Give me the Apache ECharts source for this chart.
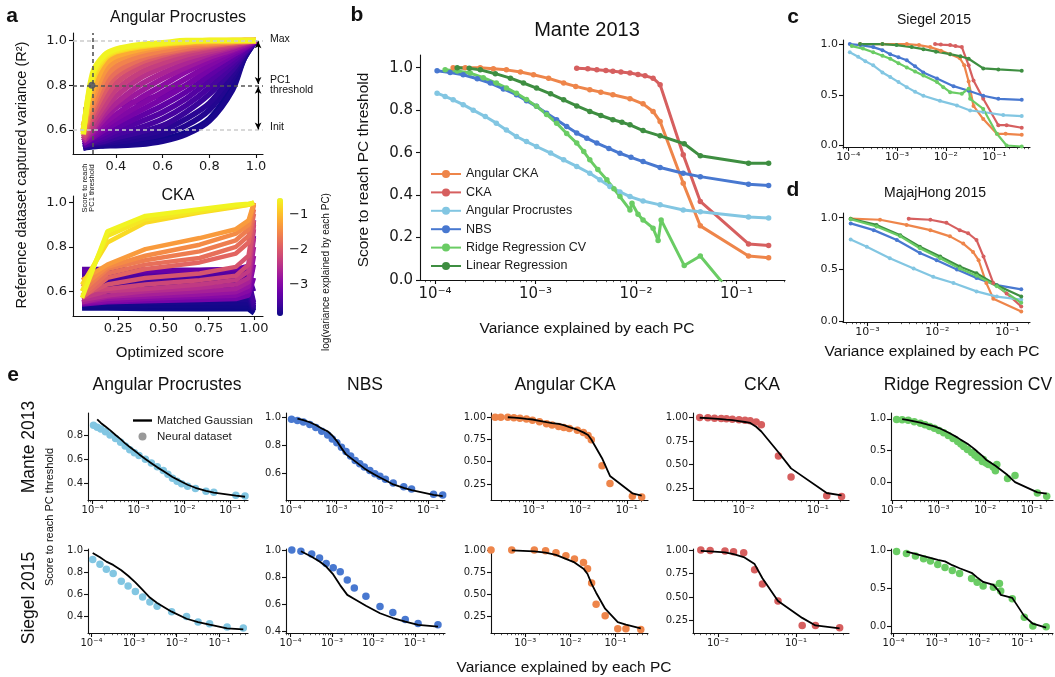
<!DOCTYPE html>
<html>
<head>
<meta charset="utf-8">
<script src="https://cdn.jsdelivr.net/npm/echarts@6/dist/echarts.min.js"></script>
<style>html,body{margin:0;padding:0;background:#fff}#chart{width:1055px;height:677px}</style>
</head>
<body>
<div id="chart"></div>
<script>
// ---------- panel a : Angular Procrustes sweep ----------
var apScore = [0.26, 0.3, 0.35, 0.4, 0.5, 0.6, 0.7, 0.8, 0.9, 0.95, 1.0];
var apLogVar = [-3.85,-3.8,-3.75,-3.7,-3.6,-3.5,-3.4,-3.3,-3.2,-3.1,-3.0,-2.9,-2.75,-2.6,-2.45,-2.3,-2.15,-1.95,-1.75,-1.55,-1.35,-1.15,-0.8,-0.65,-0.55];
var apR2 = [
  [0.52,0.525,0.53,0.535,0.545,0.56,0.59,0.65,0.8,0.92,1.0],
  [0.53,0.53,0.53,0.53,0.535,0.55,0.58,0.64,0.78,0.92,1.0],
  [0.52,0.53,0.54,0.545,0.56,0.58,0.62,0.69,0.83,0.93,1.0],
  [0.52,0.535,0.545,0.555,0.575,0.6,0.65,0.72,0.85,0.935,1.0],
  [0.53,0.54,0.55,0.565,0.59,0.62,0.68,0.76,0.87,0.94,1.0],
  [0.53,0.545,0.56,0.58,0.61,0.65,0.71,0.79,0.89,0.945,1.0],
  [0.53,0.55,0.57,0.595,0.635,0.68,0.74,0.82,0.905,0.95,1.0],
  [0.54,0.56,0.585,0.61,0.66,0.71,0.77,0.845,0.92,0.96,1.0],
  [0.69,0.69,0.7,0.71,0.73,0.76,0.8,0.87,0.935,0.965,1.0],
  [0.54,0.565,0.6,0.63,0.685,0.74,0.8,0.87,0.935,0.965,1.0],
  [0.54,0.57,0.615,0.65,0.71,0.77,0.83,0.89,0.945,0.97,1.0],
  [0.55,0.58,0.63,0.67,0.74,0.8,0.86,0.91,0.955,0.975,1.0],
  [0.55,0.59,0.65,0.7,0.77,0.83,0.88,0.925,0.96,0.98,1.0],
  [0.55,0.6,0.67,0.72,0.8,0.855,0.9,0.94,0.97,0.985,1.0],
  [0.56,0.61,0.69,0.75,0.83,0.88,0.92,0.95,0.975,0.99,1.0],
  [0.56,0.63,0.71,0.78,0.855,0.9,0.935,0.96,0.98,0.99,1.0],
  [0.57,0.65,0.74,0.81,0.88,0.92,0.95,0.97,0.985,0.995,1.0],
  [0.58,0.67,0.77,0.84,0.9,0.935,0.96,0.975,0.99,0.995,1.0],
  [0.59,0.69,0.8,0.86,0.915,0.945,0.965,0.98,0.99,0.995,1.0],
  [0.6,0.71,0.83,0.885,0.93,0.955,0.975,0.985,0.995,1.0,1.0],
  [0.62,0.74,0.86,0.91,0.95,0.97,0.985,0.99,0.995,1.0,1.0],
  [0.6,0.77,0.89,0.93,0.96,0.978,0.99,0.995,1.0,1.0,1.0],
  [0.6,0.82,0.915,0.95,0.972,0.985,0.993,1.0,1.0,1.0,1.0],
  [0.59,0.84,0.925,0.955,0.977,0.988,0.995,1.0,1.0,1.0,1.0],
  [0.58,0.855,0.935,0.962,0.982,0.99,1.0,1.0,1.0,1.0,1.0]
];
var apInit = 0.6, apThreshold = 0.8, apMax = 1.0, apScoreAtThreshold = 0.297;

// ---------- panel a : CKA sweep ----------
var ckaScore = [0.05, 0.19, 0.4, 0.7, 0.9, 0.97, 1.0];
var ckaLogVar = [-3.88,-3.85,-3.82,-3.78,-3.74,-3.7,-3.65,-3.6,-3.55,-3.5,-3.45,-3.4,-3.35,-3.25,-3.1,-2.95,-2.8,-2.65,-2.5,-2.35,-2.2,-2.05,-1.85,-1.75,-1.6,-1.45,-1.3,-0.75,-0.65,-0.55];
var ckaR2 = [
  [0.522,0.522,0.52,0.518,0.518,0.518,0.5],
  [0.535,0.535,0.534,0.532,0.531,0.531,0.505],
  [0.55,0.55,0.548,0.546,0.545,0.545,0.51],
  [0.565,0.565,0.563,0.561,0.56,0.56,0.512],
  [0.58,0.58,0.578,0.576,0.575,0.575,0.515],
  [0.595,0.595,0.593,0.591,0.59,0.59,0.52],
  [0.61,0.61,0.608,0.606,0.605,0.607,0.525],
  [0.625,0.625,0.623,0.621,0.62,0.622,0.53],
  [0.64,0.64,0.638,0.636,0.636,0.64,0.54],
  [0.655,0.655,0.653,0.652,0.652,0.656,0.55],
  [0.67,0.67,0.668,0.667,0.668,0.672,0.6],
  [0.685,0.685,0.683,0.682,0.684,0.69,0.7],
  [0.7,0.7,0.698,0.697,0.7,0.71,0.85],
  [0.69,0.69,0.69,0.695,0.7,0.715,0.92],
  [0.54,0.55,0.555,0.56,0.565,0.58,0.66],
  [0.545,0.555,0.565,0.575,0.58,0.6,0.72],
  [0.55,0.565,0.575,0.585,0.595,0.62,0.76],
  [0.55,0.575,0.585,0.6,0.61,0.64,0.8],
  [0.56,0.58,0.6,0.615,0.63,0.66,0.84],
  [0.57,0.6,0.61,0.63,0.65,0.69,0.88],
  [0.6,0.61,0.63,0.65,0.67,0.72,0.9],
  [0.58,0.63,0.66,0.68,0.71,0.76,0.92],
  [0.57,0.66,0.7,0.73,0.77,0.82,0.95],
  [0.58,0.68,0.72,0.75,0.8,0.85,0.97],
  [0.6,0.7,0.74,0.78,0.83,0.88,0.99],
  [0.62,0.71,0.76,0.81,0.86,0.9,1.0],
  [0.65,0.72,0.79,0.84,0.88,0.92,1.0],
  [0.63,0.82,0.91,0.955,0.98,0.99,1.0],
  [0.6,0.85,0.925,0.96,0.985,0.99,1.0],
  [0.57,0.87,0.94,0.97,0.99,0.995,1.0]
];
var cbMin = -3.89, cbMax = -0.51;
var cbTicks = [-3, -2, -1];

// ---------- Mante 2013 (log10 variance, score) ----------
var manteAngCkaX = [-3.82,-3.7,-3.55,-3.42,-3.29,-3.15,-3.02,-2.87,-2.72,-2.6,-2.46,-2.35,-2.23,-2.06,-1.93,-1.83,-1.76,-1.53,-1.36,-0.88,-0.68];
var manteAngCkaY = [1.0,1.0,1.0,0.995,0.99,0.98,0.967,0.95,0.928,0.912,0.896,0.885,0.873,0.854,0.83,0.794,0.747,0.456,0.255,0.113,0.105];
var manteAngCkaGauss = [null,null,1.0,0.995,0.99,0.982,0.975,0.96,0.945,0.935,0.925,0.912,0.89,0.86,0.83,0.8,0.75,0.54,0.34,0.145,0.12];
var manteCkaX = [-2.59,-2.48,-2.39,-2.3,-2.23,-2.15,-2.06,-1.98,-1.91,-1.83,-1.76,-1.53,-1.36,-0.88,-0.68];
var manteCkaY = [0.998,0.995,0.99,0.987,0.983,0.98,0.975,0.968,0.962,0.951,0.92,0.59,0.37,0.17,0.162];
var manteCkaGauss = [0.995,0.99,0.985,0.98,0.975,0.97,0.96,0.95,0.94,0.9,0.85,0.63,0.46,0.2,0.175];
var manteApX = [-3.98,-3.9,-3.82,-3.72,-3.62,-3.5,-3.39,-3.29,-3.19,-3.09,-2.99,-2.85,-2.72,-2.59,-2.46,-2.36,-2.26,-2.16,-2.06,-1.93,-1.76,-1.53,-1.36,-0.88,-0.68];
var manteApY = [0.88,0.865,0.849,0.826,0.80,0.77,0.739,0.707,0.676,0.652,0.629,0.598,0.566,0.535,0.503,0.472,0.44,0.415,0.393,0.372,0.354,0.33,0.322,0.297,0.292];
var manteApGauss = [null,0.93,0.9,0.87,0.84,0.8,0.765,0.73,0.7,0.67,0.64,0.6,0.565,0.53,0.5,0.475,0.45,0.43,0.41,0.385,0.36,0.335,0.32,0.295,0.285];
var manteNbsX = [-3.98,-3.85,-3.72,-3.58,-3.45,-3.32,-3.19,-3.09,-2.99,-2.89,-2.79,-2.69,-2.59,-2.49,-2.39,-2.27,-2.16,-2.05,-1.93,-1.76,-1.53,-1.36,-0.88,-0.68];
var manteNbsY = [0.986,0.977,0.967,0.948,0.928,0.9,0.873,0.845,0.818,0.786,0.755,0.723,0.692,0.668,0.645,0.62,0.597,0.578,0.558,0.53,0.503,0.487,0.451,0.445];
var manteNbsGauss = [null,0.99,0.98,0.965,0.945,0.92,0.9,0.87,0.83,0.78,0.735,0.71,0.685,0.66,0.635,0.61,0.59,0.57,0.55,0.52,0.495,0.48,0.445,0.437];
var manteRidgeX = [-3.90,-3.78,-3.65,-3.52,-3.39,-3.29,-3.19,-3.09,-2.99,-2.89,-2.79,-2.69,-2.59,-2.52,-2.46,-2.38,-2.29,-2.22,-2.16,-2.06,-2.04,-1.98,-1.93,-1.83,-1.78,-1.75,-1.52,-1.36,-0.88,-0.68];
var manteRidgeY = [0.99,0.985,0.975,0.953,0.928,0.905,0.88,0.85,0.818,0.78,0.739,0.69,0.645,0.605,0.566,0.52,0.472,0.43,0.393,0.33,0.362,0.31,0.283,0.244,0.186,0.283,0.068,0.113,-0.16,-0.21];
var manteRidgeGauss = [null,0.995,0.98,0.96,0.94,0.92,0.9,0.88,0.855,0.82,0.785,0.745,0.705,0.67,0.645,0.61,0.56,0.52,0.48,0.42,0.405,0.36,0.335,0.29,0.265,0.25,0.12,0.01,-0.15,-0.17];
var manteLinX = [-3.78,-3.66,-3.55,-3.4,-3.25,-3.12,-2.99,-2.85,-2.72,-2.59,-2.46,-2.35,-2.23,-2.14,-2.06,-1.93,-1.76,-1.52,-1.36,-0.88,-0.68];
var manteLinY = [1.0,0.997,0.99,0.972,0.951,0.928,0.904,0.877,0.849,0.82,0.794,0.775,0.755,0.743,0.731,0.704,0.679,0.642,0.585,0.55,0.55];

// ---------- Siegel 2015 ----------
var siegelAngCkaX = [-3.76,-3.3,-2.8,-2.55,-2.32,-2.1,-1.91,-1.71,-1.62,-1.53,-1.43,-1.23,-0.95,-0.77,-0.44];
var siegelAngCkaY = [1.0,1.0,1.0,0.99,0.97,0.935,0.90,0.86,0.79,0.63,0.39,0.26,0.115,0.115,0.105];
var siegelAngCkaGauss = [null,0.995,0.985,0.97,0.945,0.9,0.86,0.79,0.73,0.62,0.52,0.34,0.19,0.16,0.12];
var siegelCkaX = [-2.22,-2.1,-1.91,-1.8,-1.67,-1.53,-1.43,-1.23,-0.92,-0.75,-0.44];
var siegelCkaY = [1.0,0.995,0.99,0.98,0.97,0.79,0.64,0.46,0.20,0.20,0.175];
var siegelCkaGauss = [0.99,0.985,0.975,0.955,0.925,0.85,0.7,0.46,0.28,0.2,0.17];
var siegelApX = [-3.97,-3.8,-3.65,-3.49,-3.3,-3.14,-2.97,-2.8,-2.63,-2.46,-2.12,-1.77,-1.5,-1.23,-0.82,-0.44];
var siegelApY = [0.92,0.875,0.83,0.79,0.72,0.675,0.625,0.575,0.53,0.49,0.44,0.395,0.345,0.33,0.30,0.29];
var siegelApGauss = [0.98,0.94,0.9,0.87,0.82,0.77,0.71,0.64,0.57,0.52,0.44,0.375,0.345,0.32,0.287,0.278];
var siegelNbsX = [-3.97,-3.75,-3.49,-3.3,-3.14,-2.97,-2.8,-2.63,-2.46,-2.18,-1.84,-1.53,-1.23,-0.92,-0.44];
var siegelNbsY = [1.0,0.99,0.97,0.94,0.90,0.87,0.84,0.78,0.72,0.66,0.585,0.54,0.49,0.46,0.45];
var siegelNbsGauss = [null,0.99,0.95,0.915,0.878,0.82,0.74,0.67,0.64,0.59,0.535,0.5,0.473,0.45,0.437];
var siegelRidgeX = [-3.93,-3.7,-3.49,-3.3,-3.14,-2.97,-2.8,-2.63,-2.46,-2.18,-2.05,-1.91,-1.67,-1.53,-1.5,-1.23,-0.95,-0.75,-0.44];
var siegelRidgeY = [0.98,0.955,0.92,0.885,0.855,0.81,0.77,0.73,0.69,0.625,0.575,0.526,0.51,0.56,0.46,0.36,0.115,0.0,-0.01];
var siegelRidgeGauss = [null,0.98,0.95,0.92,0.895,0.87,0.85,0.8,0.76,0.7,0.64,0.58,0.54,0.45,0.41,0.37,0.13,0.03,-0.02];
var siegelLinX = [-3.76,-3.3,-3.01,-2.7,-2.46,-2.2,-1.91,-1.7,-1.53,-1.23,-0.92,-0.44];
var siegelLinY = [1.0,1.0,0.99,0.97,0.95,0.925,0.90,0.88,0.855,0.76,0.75,0.737];

// ---------- MajajHong 2015 ----------
var majajAngCkaX = [-3.24,-2.82,-2.44,-2.10,-1.82,-1.63,-1.49,-1.41,-1.30,-1.20,-0.80];
var majajAngCkaY = [0.99,0.98,0.93,0.88,0.82,0.75,0.67,0.59,0.37,0.22,0.096];
var majajCkaX = [-2.41,-2.10,-1.87,-1.68,-1.56,-1.44,-1.34,-1.20,-1.01,-0.80];
var majajCkaY = [0.99,0.98,0.95,0.88,0.85,0.785,0.625,0.37,0.27,0.145];
var majajApX = [-3.24,-3.01,-2.68,-2.34,-2.06,-1.77,-1.44,-1.15,-0.80];
var majajApY = [0.79,0.72,0.61,0.51,0.43,0.37,0.29,0.24,0.21];
var majajNbsX = [-3.24,-2.91,-2.58,-2.25,-2.01,-1.72,-1.44,-1.15,-0.80];
var majajNbsY = [0.945,0.88,0.785,0.66,0.59,0.50,0.42,0.35,0.31];
var majajRidgeX = [-3.24,-2.87,-2.53,-2.25,-1.96,-1.68,-1.44,-1.15,-0.80];
var majajRidgeY = [0.985,0.915,0.82,0.705,0.61,0.51,0.44,0.34,0.18];
var majajLinX = [-3.24,-2.87,-2.53,-2.25,-1.96,-1.68,-1.44,-1.15,-0.80];
var majajLinY = [0.99,0.93,0.83,0.72,0.625,0.53,0.465,0.35,0.24];

var methodNames = ['Angular CKA', 'CKA', 'Angular Procrustes', 'NBS', 'Ridge Regression CV', 'Linear Regression'];
var methodColors = ['#ee854a', '#d65f5f', '#82c6e2', '#4878d0', '#6acc64', '#3e8e41'];

// ---------- helpers ----------
var SANS = '"Liberation Sans", Arial, sans-serif';
var DEJA = '"DejaVu Sans", sans-serif';
var PLASMA = ['#0d0887','#41049d','#6a00a8','#8f0da4','#b12a90','#cc4778','#e16462','#f2844b','#fca636','#fcce25','#f0f921'];
function plasma(v) {
    var t = (v - cbMin) / (cbMax - cbMin);
    return echarts.color.lerp(Math.max(0, Math.min(1, t)), PLASMA);
}
var SUP = {'0':'⁰','1':'¹','2':'²','3':'³','4':'⁴','5':'⁵','6':'⁶'};
function pow10(v) {
    var n = Math.round(v);
    return '10' + (n < 0 ? '⁻' : '') + String(Math.abs(n)).split('').map(function (c) { return SUP[c]; }).join('');
}
function logRange(min, max) {
    var ticks = [], minors = [];
    for (var n = -6; n <= 0; n++) {
        if (n >= min && n <= max) ticks.push(n);
        for (var k = 2; k <= 9; k++) {
            var v = n + Math.log10(k);
            if (v >= min && v <= max) minors.push(v);
        }
    }
    return {min: min, max: max, ticks: ticks, minors: minors, fmt: pow10};
}
function linRange(min, max, ticks, dec) {
    return {min: min, max: max, ticks: ticks, fmt: function (v) { return v.toFixed(dec).replace('-', '−'); }};
}
function zip(xs, ys) { return xs.map(function (x, i) { return [x, ys[i]]; }); }

var grids = [], xAxes = [], yAxes = [], series = [], graphics = [];

function axisCfg(gi, r, st, minor, pos) {
    return {
        type: 'value', gridIndex: gi, min: r.min, max: r.max, position: pos,
        axisLine: {show: !minor, onZero: false, lineStyle: {color: '#111', width: 1.1}},
        axisTick: {show: true, inside: false, length: minor ? 2.2 : 4,
                   customValues: minor ? r.minors : r.ticks,
                   lineStyle: {color: '#111', width: minor ? 0.7 : 1.1}},
        axisLabel: {show: !minor, customValues: r.ticks, formatter: r.fmt,
                    fontFamily: st.font, fontSize: st.size, color: '#1a1a1a', margin: st.margin},
        splitLine: {show: false}
    };
}
function addPanel(box, xr, yr, st) {
    var gi = grids.length;
    grids.push({left: box[0], top: box[1], width: box[2] - box[0], height: box[3] - box[1]});
    var xi = xAxes.length;
    xAxes.push(axisCfg(gi, xr, st, false, 'bottom'));
    if (xr.minors && xr.minors.length) xAxes.push(axisCfg(gi, xr, st, true, 'bottom'));
    var yi = yAxes.length;
    yAxes.push(axisCfg(gi, yr, st, false, 'left'));
    return {x: xi, y: yi};
}
function methodLine(ax, xs, ys, m, size, width) {
    series.push({
        type: 'line', name: methodNames[m], xAxisIndex: ax.x, yAxisIndex: ax.y,
        data: zip(xs, ys), symbol: 'circle', symbolSize: size, showSymbol: true,
        lineStyle: {color: methodColors[m], width: width}, itemStyle: {color: methodColors[m]},
        clip: true, animation: false, silent: true, z: 3
    });
}
function ePanel(ax, xs, ys, gs, m) {
    series.push({
        type: 'scatter', name: 'Neural dataset', xAxisIndex: ax.x, yAxisIndex: ax.y,
        data: zip(xs, ys), symbolSize: 7.5, itemStyle: {color: methodColors[m], opacity: 1},
        clip: true, animation: false, silent: true, z: 3
    });
    series.push({
        type: 'line', name: 'Matched Gaussian', xAxisIndex: ax.x, yAxisIndex: ax.y,
        data: zip(xs, gs), symbol: 'none', lineStyle: {color: '#000', width: 1.8},
        itemStyle: {color: '#000'}, clip: true, animation: false, silent: true, z: 4
    });
}
function text(x, y, s, size, o) {
    o = o || {};
    graphics.push({
        type: 'text', x: x, y: y, rotation: o.rot || 0, silent: true, z: 100,
        style: {text: s, fontSize: size, fontFamily: o.font || SANS, fontWeight: o.bold ? 'bold' : 'normal',
                fill: '#111', align: o.align || 'center', verticalAlign: 'middle',
                textAlign: o.align || 'center', textVerticalAlign: 'middle', lineHeight: o.lh || size * 1.15}
    });
}

// ---------- panel a ----------
var stA = {font: DEJA, size: 13, margin: 6};
var a1 = addPanel([73, 33, 263, 154], linRange(0.216, 1.03, [0.4, 0.6, 0.8, 1.0], 1),
                  linRange(0.493, 1.034, [0.6, 0.8, 1.0], 1), stA);
apR2.forEach(function (row, i) {
    var c = plasma(apLogVar[i]);
    series.push({type: 'line', xAxisIndex: a1.x, yAxisIndex: a1.y, data: zip(apScore, row),
                 showSymbol: false, smooth: 0.3, lineStyle: {color: c, width: 5.5}, itemStyle: {color: c},
                 animation: false, silent: true, z: 2});
});
var dash = [4, 3];
series[series.length - 1].markLine = {
    silent: true, animation: false, symbol: ['none', 'none'], label: {show: false}, z: 6,
    data: [
        {yAxis: apMax, lineStyle: {color: '#cccccc', type: dash, width: 1.6}},
        {yAxis: apInit, lineStyle: {color: '#cccccc', type: dash, width: 1.6}},
        {yAxis: apThreshold, lineStyle: {color: '#555555', type: dash, width: 1.6}},
        {xAxis: apScoreAtThreshold, lineStyle: {color: '#555555', type: dash, width: 1.6}},
        [{coord: [1.009, apMax - 0.003], symbol: 'arrow', symbolSize: [5, 7]},
         {coord: [1.009, apThreshold + 0.006], symbol: 'arrow', symbolSize: [5, 7], lineStyle: {color: '#000', width: 1.2, type: 'solid'}}],
        [{coord: [1.009, apThreshold - 0.006], symbol: 'arrow', symbolSize: [5, 7]},
         {coord: [1.009, apInit + 0.003], symbol: 'arrow', symbolSize: [5, 7], lineStyle: {color: '#000', width: 1.2, type: 'solid'}}]
    ]
};
series[series.length - 1].markPoint = {
    silent: true, animation: false, symbol: 'circle', symbolSize: 7, label: {show: false},
    itemStyle: {color: '#666'}, data: [{coord: [apScoreAtThreshold, apThreshold]}]
};

var a2 = addPanel([73, 196, 263, 316], linRange(0, 1.05, [0.25, 0.5, 0.75, 1.0], 2),
                  linRange(0.488, 1.03, [0.6, 0.8, 1.0], 1), stA);
ckaR2.forEach(function (row, i) {
    var c = plasma(ckaLogVar[i]);
    series.push({type: 'line', xAxisIndex: a2.x, yAxisIndex: a2.y, data: zip(ckaScore, row),
                 showSymbol: false, lineStyle: {color: c, width: 4.5}, itemStyle: {color: c},
                 animation: false, silent: true, z: 2});
});

// colorbar ticks (axis beside the visualMap bar)
var cbGrid = grids.length;
grids.push({left: 277, top: 198, width: 6, height: 118});
xAxes.push({type: 'value', gridIndex: cbGrid, show: false, min: 0, max: 1});
yAxes.push({type: 'value', gridIndex: cbGrid, position: 'right', min: cbMin, max: cbMax,
            axisLine: {show: false}, splitLine: {show: false},
            axisTick: {show: true, length: 4, customValues: cbTicks, lineStyle: {color: '#111', width: 1.1}},
            axisLabel: {customValues: cbTicks, margin: 6, fontFamily: DEJA, fontSize: 13, color: '#1a1a1a',
                        formatter: function (v) { return '−' + Math.abs(v); }}});
var cbSeries = series.length;
series.push({type: 'line', xAxisIndex: xAxes.length - 1, yAxisIndex: yAxes.length - 1, data: [], silent: true});

// ---------- panel b ----------
var b = addPanel([420, 55, 785, 280], logRange(-4.15, -0.517),
                 linRange(0, 1.06, [0, 0.2, 0.4, 0.6, 0.8, 1.0], 1), {font: DEJA, size: 15, margin: 7});
methodLine(b, manteAngCkaX, manteAngCkaY, 0, 5.5, 3);
methodLine(b, manteCkaX, manteCkaY, 1, 5.5, 3);
methodLine(b, manteApX, manteApY, 2, 5.5, 3);
methodLine(b, manteNbsX, manteNbsY, 3, 5.5, 3);
methodLine(b, manteRidgeX, manteRidgeY, 4, 5.5, 3);
methodLine(b, manteLinX, manteLinY, 5, 5.5, 3);

// ---------- panel c ----------
var stCD = {font: DEJA, size: 11, margin: 5};
var c = addPanel([843, 40, 1030, 147], logRange(-4.11, -0.27), linRange(-0.015, 1.04, [0, 0.5, 1.0], 1), stCD);
methodLine(c, siegelAngCkaX, siegelAngCkaY, 0, 4, 2.2);
methodLine(c, siegelCkaX, siegelCkaY, 1, 4, 2.2);
methodLine(c, siegelApX, siegelApY, 2, 4, 2.2);
methodLine(c, siegelNbsX, siegelNbsY, 3, 4, 2.2);
methodLine(c, siegelRidgeX, siegelRidgeY, 4, 4, 2.2);
methodLine(c, siegelLinX, siegelLinY, 5, 4, 2.2);

// ---------- panel d ----------
var d = addPanel([843, 213, 1030, 322], logRange(-3.35, -0.675), linRange(-0.005, 1.045, [0, 0.5, 1.0], 1), stCD);
methodLine(d, majajAngCkaX, majajAngCkaY, 0, 4, 2.2);
methodLine(d, majajCkaX, majajCkaY, 1, 4, 2.2);
methodLine(d, majajApX, majajApY, 2, 4, 2.2);
methodLine(d, majajNbsX, majajNbsY, 3, 4, 2.2);
methodLine(d, majajLinX, majajLinY, 5, 4, 2.2);
methodLine(d, majajRidgeX, majajRidgeY, 4, 4, 2.2);

// ---------- panel e ----------
var stE = {font: DEJA, size: 10, margin: 5};
var r1 = [413, 500], r2 = [549, 633];
var cols = [[88, 248], [286, 445], [491, 648], [693, 849], [891, 1053]];
function eBox(col, row) { return [cols[col][0], row[0], cols[col][1], row[1]]; }

ePanel(addPanel(eBox(0, r1), logRange(-4.1, -0.615), linRange(0.258, 0.983, [0.4, 0.6, 0.8], 1), stE),
       manteApX, manteApY, manteApGauss, 2);
ePanel(addPanel(eBox(1, r1), logRange(-4.1, -0.63), linRange(0.409, 1.031, [0.6, 0.8, 1.0], 1), stE),
       manteNbsX, manteNbsY, manteNbsGauss, 3);
ePanel(addPanel(eBox(2, r1), logRange(-3.91, -0.545), linRange(0.07, 1.048, [0.25, 0.5, 0.75, 1.0], 2), stE),
       manteAngCkaX, manteAngCkaY, manteAngCkaGauss, 0);
ePanel(addPanel(eBox(3, r1), logRange(-2.68, -0.58), linRange(0.126, 1.045, [0.25, 0.5, 0.75, 1.0], 2), stE),
       manteCkaX, manteCkaY, manteCkaGauss, 1);
ePanel(addPanel(eBox(4, r1), logRange(-4.02, -0.545), linRange(-0.27, 1.09, [0, 0.5, 1.0], 1), stE),
       manteRidgeX, manteRidgeY, manteRidgeGauss, 4);

ePanel(addPanel(eBox(0, r2), logRange(-4.08, -0.33), linRange(0.244, 1.016, [0.4, 0.6, 0.8, 1.0], 1), stE),
       siegelApX, siegelApY, siegelApGauss, 2);
ePanel(addPanel(eBox(1, r2), logRange(-4.11, -0.27), linRange(0.39, 1.007, [0.4, 0.6, 0.8, 1.0], 1), stE),
       siegelNbsX, siegelNbsY, siegelNbsGauss, 3);
ePanel(addPanel(eBox(2, r2), logRange(-3.76, -0.28), linRange(0.067, 1.011, [0.25, 0.5, 0.75, 1.0], 2), stE),
       siegelAngCkaX, siegelAngCkaY, siegelAngCkaGauss, 0);
ePanel(addPanel(eBox(3, r2), logRange(-2.32, -0.32), linRange(0.12, 1.01, [0.25, 0.5, 0.75, 1.0], 2), stE),
       siegelCkaX, siegelCkaY, siegelCkaGauss, 1);
ePanel(addPanel(eBox(4, r2), logRange(-4.06, -0.28), linRange(-0.092, 1.013, [0, 0.5, 1.0], 1), stE),
       siegelRidgeX, siegelRidgeY, siegelRidgeGauss, 4);

// ---------- text ----------
text(12, 16, 'a', 21, {bold: true});
text(357, 15, 'b', 21, {bold: true});
text(793, 17, 'c', 21, {bold: true});
text(793, 190, 'd', 21, {bold: true});
text(13, 375, 'e', 21, {bold: true});

text(178, 18, 'Angular Procrustes', 16);
text(178, 196, 'CKA', 16);
text(22, 175, 'Reference dataset captured variance (R²)', 14.5, {rot: Math.PI / 2});
text(170, 353, 'Optimized score', 15);
text(88, 188, 'Score to reach\nPC1 threshold', 7.5, {rot: Math.PI / 2, lh: 7});
text(270, 39, 'Max', 10.5, {align: 'left'});
text(270, 85, 'PC1\nthreshold', 10.5, {align: 'left', lh: 10});
text(270, 127, 'Init', 10.5, {align: 'left'});
text(326, 272, 'log(variance explained by each PC)', 10, {rot: Math.PI / 2});

text(587, 30, 'Mante 2013', 20);
text(364, 170, 'Score to reach PC threshold', 15.5, {rot: Math.PI / 2});
text(587, 329, 'Variance explained by each PC', 15.5);
text(934, 20, 'Siegel 2015', 14);
text(935, 193, 'MajajHong 2015', 14);
text(932, 352, 'Variance explained by each PC', 15.5);

text(167, 385, 'Angular Procrustes', 17.5);
text(365, 385, 'NBS', 17.5);
text(565, 385, 'Angular CKA', 17.5);
text(762, 385, 'CKA', 17.5);
text(968, 385, 'Ridge Regression CV', 17.5);
text(29, 447, 'Mante 2013', 17.5, {rot: Math.PI / 2});
text(29, 598, 'Siegel 2015', 17.5, {rot: Math.PI / 2});
text(50, 517, 'Score to reach PC threshold', 11, {rot: Math.PI / 2});
text(564, 668, 'Variance explained by each PC', 15.5);

var chart = echarts.init(document.getElementById('chart'), null, {renderer: 'canvas'});
chart.setOption({
    backgroundColor: '#ffffff',
    animation: false,
    grid: grids,
    xAxis: xAxes,
    yAxis: yAxes,
    visualMap: [{
        type: 'continuous', min: cbMin, max: cbMax, inRange: {color: PLASMA},
        left: 277, top: 198, itemWidth: 6, itemHeight: 118, padding: 0,
        calculable: false, text: null, hoverLink: false, seriesIndex: cbSeries
    }],
    legend: [{
        data: methodNames, orient: 'vertical', left: 430, top: 167, padding: 0,
        itemWidth: 30, itemHeight: 10, itemGap: 4.4, selectedMode: false,
        textStyle: {fontFamily: SANS, fontSize: 12.5, color: '#1a1a1a', lineHeight: 14}
    }, {
        data: [{name: 'Matched Gaussian', icon: 'path://M0,0L24,0L24,3L0,3Z', itemStyle: {color: '#000'}},
               {name: 'Neural dataset', icon: 'circle', itemStyle: {color: '#999999'}}],
        orient: 'vertical', left: 133, top: 414, padding: 0, itemWidth: 19, itemHeight: 8, itemGap: 3,
        selectedMode: false,
        textStyle: {fontFamily: SANS, fontSize: 11.5, color: '#1a1a1a', lineHeight: 13}
    }],
    graphic: graphics,
    series: series
});
</script>
</body>
</html>
